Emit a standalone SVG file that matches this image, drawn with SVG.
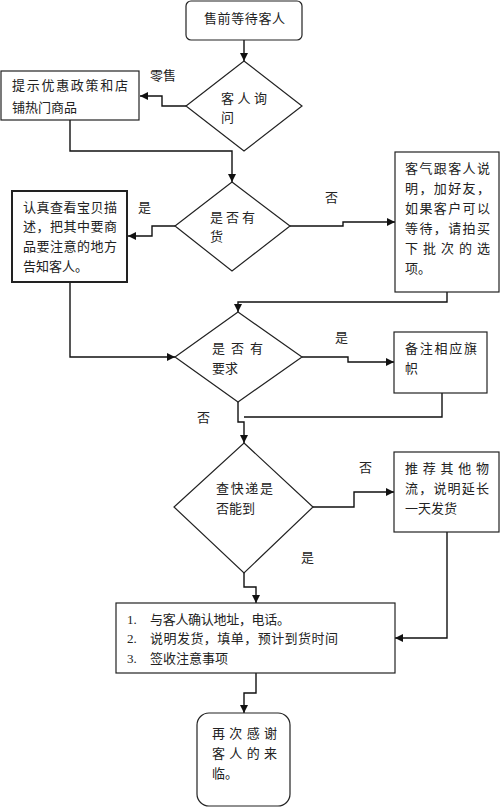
<svg xmlns="http://www.w3.org/2000/svg" width="500" height="808" viewBox="0 0 500 808">
<defs>
<style>
.n{fill:#fff;stroke:#222;stroke-width:1.2}
.t{font-family:"Noto Sans CJK SC","Liberation Serif",sans-serif;font-size:13px;fill:#222}
.num{font-family:"Liberation Serif",serif;font-size:13px;fill:#222}
.c{fill:none;stroke:#111;stroke-width:1.4}
</style>
<marker id="ar" viewBox="0 0 10 10" refX="10" refY="5" markerWidth="8" markerHeight="8" markerUnits="userSpaceOnUse" orient="auto">
<path d="M0,0 L10,5 L0,10 z" fill="#111"/>
</marker>
</defs>
<rect width="500" height="808" fill="#fff"/>

<g id="connectors">
<path class="c" marker-end="url(#ar)" d="M244,40 V61"/>
<path class="c" marker-end="url(#ar)" d="M186,106 H162 V96 H140"/>
<path class="c" marker-end="url(#ar)" d="M70,120 V151 H232 V182"/>
<path class="c" marker-end="url(#ar)" d="M175,226 H152 V236 H128"/>
<path class="c" marker-end="url(#ar)" d="M290,226 H343 V222 H395"/>
<path class="c" marker-end="url(#ar)" d="M447,292 V302 H238 V312"/>
<path class="c" marker-end="url(#ar)" d="M70,283 V357 H175"/>
<path class="c" marker-end="url(#ar)" d="M302,357 H348 V362 H394"/>
<path class="c" d="M442,393 V417 H244"/>
<path class="c" marker-end="url(#ar)" d="M238,402 V422 H244 V443"/>
<path class="c" marker-end="url(#ar)" d="M313,507 H354 V492 H394"/>
<path class="c" marker-end="url(#ar)" d="M447,532 V638 H395"/>
<path class="c" marker-end="url(#ar)" d="M244,573 V587 H256 V603"/>
<path class="c" marker-end="url(#ar)" d="M256,673 V693 H244 V713"/>
</g>

<g id="labels">
<text class="t" x="150" y="80">零售</text>
<text class="t" x="138" y="212">是</text>
<text class="t" x="325" y="202">否</text>
<text class="t" x="335" y="342">是</text>
<text class="t" x="197" y="422">否</text>
<text class="t" x="359" y="472">否</text>
<text class="t" x="301" y="562">是</text>
</g>

<g id="start">
<rect class="n" x="186" y="1" width="116" height="39" rx="5"/>
<text class="t" x="204" y="23" textLength="81" lengthAdjust="spacing">售前等待客人</text>
</g>

<g id="ask">
<path class="n" d="M244,61 L302,106 L244,151 L186,106 Z"/>
<text class="t" x="221" y="103" textLength="46" lengthAdjust="spacing">客人询</text>
<text class="t" x="221" y="122">问</text>
</g>

<g id="promo">
<rect class="n" x="1" y="71" width="138" height="49"/>
<text class="t" x="12" y="90" textLength="116" lengthAdjust="spacing">提示优惠政策和店</text>
<text class="t" x="12" y="112">铺热门商品</text>
</g>

<g id="stock">
<path class="n" d="M232,182 L290,226 L232,271 L175,226 Z"/>
<text class="t" x="210" y="222" textLength="45" lengthAdjust="spacing">是否有</text>
<text class="t" x="210" y="241">货</text>
</g>

<g id="check">
<rect class="n" x="12" y="191" width="115" height="91" style="stroke-width:2"/>
<text class="t" x="23" y="212" textLength="94" lengthAdjust="spacing">认真查看宝贝描</text>
<text class="t" x="23" y="231" textLength="94" lengthAdjust="spacing">述，把其中要商</text>
<text class="t" x="23" y="251" textLength="94" lengthAdjust="spacing">品要注意的地方</text>
<text class="t" x="23" y="271">告知客人。</text>
</g>

<g id="polite">
<rect class="n" x="395" y="152" width="104" height="140"/>
<text class="t" x="405" y="173" textLength="85" lengthAdjust="spacing">客气跟客人说</text>
<text class="t" x="405" y="193" textLength="85" lengthAdjust="spacing">明，加好友，</text>
<text class="t" x="405" y="213" textLength="85" lengthAdjust="spacing">如果客户可以</text>
<text class="t" x="405" y="233" textLength="85" lengthAdjust="spacing">等待，请拍买</text>
<text class="t" x="405" y="253" textLength="85" lengthAdjust="spacing">下批次的选</text>
<text class="t" x="405" y="273">项。</text>
</g>

<g id="require">
<path class="n" d="M238,312 L302,357 L238,402 L175,357 Z"/>
<text class="t" x="212" y="353" textLength="51" lengthAdjust="spacing">是否有</text>
<text class="t" x="212" y="373">要求</text>
</g>

<g id="note">
<rect class="n" x="394" y="332" width="93" height="61"/>
<text class="t" x="405" y="353" textLength="72" lengthAdjust="spacing">备注相应旗</text>
<text class="t" x="405" y="373">帜</text>
</g>

<g id="express">
<path class="n" d="M244,443 L313,507 L244,573 L174,507 Z"/>
<text class="t" x="216" y="493" textLength="57" lengthAdjust="spacing">查快递是</text>
<text class="t" x="216" y="513">否能到</text>
</g>

<g id="other">
<rect class="n" x="394" y="452" width="105" height="80"/>
<text class="t" x="405" y="473" textLength="84" lengthAdjust="spacing">推荐其他物</text>
<text class="t" x="405" y="493" textLength="84" lengthAdjust="spacing">流，说明延长</text>
<text class="t" x="405" y="513">一天发货</text>
</g>

<g id="confirm">
<rect class="n" x="116" y="603" width="279" height="70"/>
<text class="num" x="127" y="624">1.</text>
<text class="t" x="150" y="624" textLength="140" lengthAdjust="spacing">与客人确认地址，电话。</text>
<text class="num" x="127" y="643">2.</text>
<text class="t" x="150" y="643" textLength="188" lengthAdjust="spacing">说明发货，填单，预计到货时间</text>
<text class="num" x="127" y="663">3.</text>
<text class="t" x="150" y="663">签收注意事项</text>
</g>

<g id="thanks">
<rect class="n" x="197" y="713" width="93" height="93" rx="12"/>
<text class="t" x="212" y="738" textLength="65" lengthAdjust="spacing">再次感谢</text>
<text class="t" x="212" y="758" textLength="65" lengthAdjust="spacing">客人的来</text>
<text class="t" x="212" y="778">临。</text>
</g>
</svg>
